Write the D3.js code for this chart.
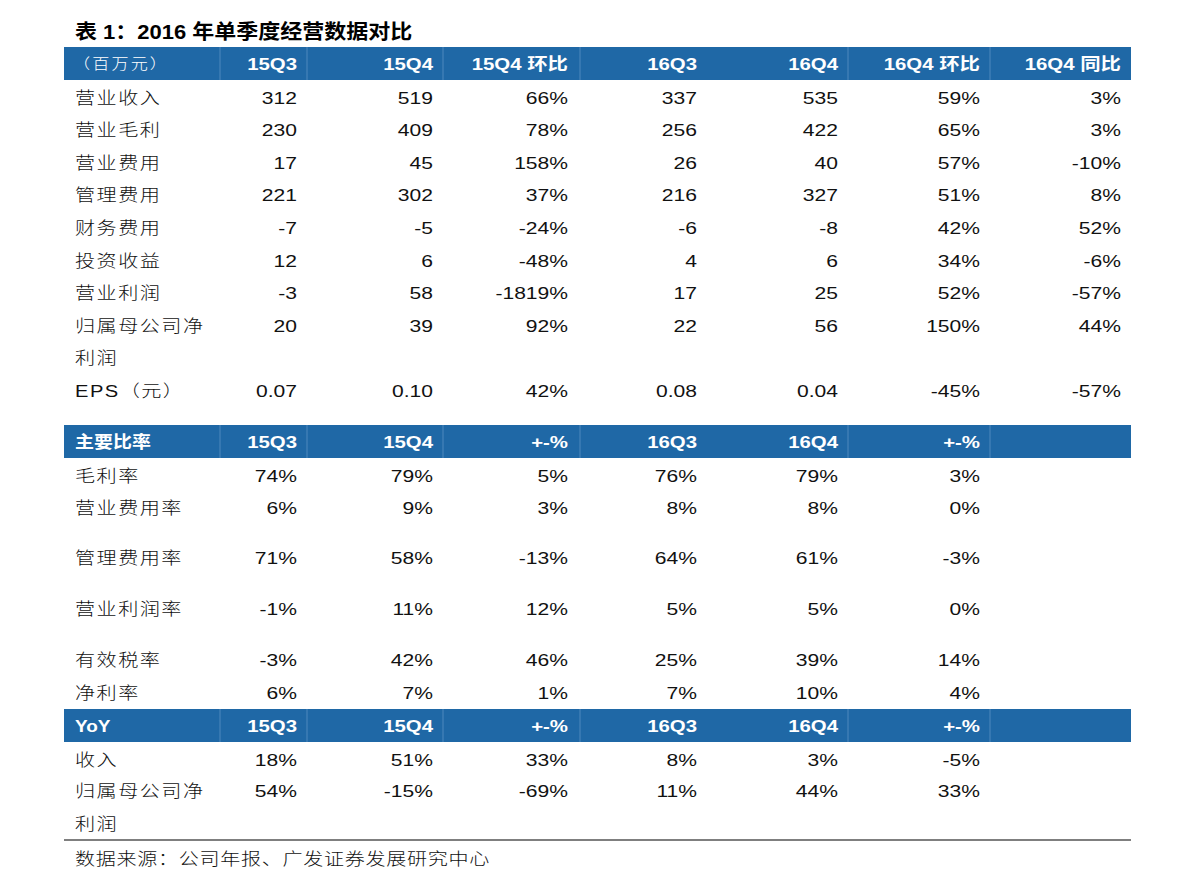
<!DOCTYPE html>
<html>
<head>
<meta charset="utf-8">
<script src="https://cdn.jsdelivr.net/npm/d3@7/dist/d3.min.js"></script>
<style>
  html, body { margin: 0; padding: 0; background: #fff; }
  svg { display: block; }
</style>
</head>
<body>
<svg id="chart" width="1191" height="888"></svg>
<script>
// ---------- DATA ----------
const title = "表 1：2016 年单季度经营数据对比";
const source = "数据来源：公司年报、广发证券发展研究中心";

const header1 = ["（百万元）", "15Q3", "15Q4", "15Q4 环比", "16Q3", "16Q4", "16Q4 环比", "16Q4 同比"];
const labels1 = ["营业收入", "营业毛利", "营业费用", "管理费用", "财务费用", "投资收益", "营业利润", "归属母公司净|利润", "EPS（元）"];
const values1 = [
  ["312", "519", "66%", "337", "535", "59%", "3%"],
  ["230", "409", "78%", "256", "422", "65%", "3%"],
  ["17", "45", "158%", "26", "40", "57%", "-10%"],
  ["221", "302", "37%", "216", "327", "51%", "8%"],
  ["-7", "-5", "-24%", "-6", "-8", "42%", "52%"],
  ["12", "6", "-48%", "4", "6", "34%", "-6%"],
  ["-3", "58", "-1819%", "17", "25", "52%", "-57%"],
  ["20", "39", "92%", "22", "56", "150%", "44%"],
  ["0.07", "0.10", "42%", "0.08", "0.04", "-45%", "-57%"]
];

const header2 = ["主要比率", "15Q3", "15Q4", "+-%", "16Q3", "16Q4", "+-%", ""];
const labels2 = ["毛利率", "营业费用率", "管理费用率", "营业利润率", "有效税率", "净利率"];
const values2 = [
  ["74%", "79%", "5%", "76%", "79%", "3%", ""],
  ["6%", "9%", "3%", "8%", "8%", "0%", ""],
  ["71%", "58%", "-13%", "64%", "61%", "-3%", ""],
  ["-1%", "11%", "12%", "5%", "5%", "0%", ""],
  ["-3%", "42%", "46%", "25%", "39%", "14%", ""],
  ["6%", "7%", "1%", "7%", "10%", "4%", ""]
];

const header3 = ["YoY", "15Q3", "15Q4", "+-%", "16Q3", "16Q4", "+-%", ""];
const labels3 = ["收入", "归属母公司净|利润"];
const values3 = [
  ["18%", "51%", "33%", "8%", "3%", "-5%", ""],
  ["54%", "-15%", "-69%", "11%", "44%", "33%", ""]
];

// ---------- LAYOUT ----------
const W = 1191, H = 888;
const tableLeft = 64, tableRight = 1131;
const labelX = 75;
const headerH = 33;
const pitch = 32.6;
const blue = "#1f68a6";
const sepColor = "#4f88bd";
const sx = 1.24; // horizontal stretch of the original typography

// column right edges (text anchor) and header separators
const colX = d3.scaleOrdinal().domain(d3.range(1, 8)).range([297, 433, 568, 697, 838, 980, 1121]);
const separators = [220, 307, 443, 580, 848, 990];

const sections = [
  { header: header1, labels: labels1, values: values1, top: 47, gaps: [1, 1, 1, 1, 1, 1, 1, 2, 1] },
  { header: header2, labels: labels2, values: values2, top: 425, gaps: [1, 1.53, 1.56, 1.56, 1.01, 1] },
  { header: header3, labels: labels3, values: values3, top: 709, gaps: [0.98, 1] }
];

const numFont = "'Liberation Sans', Arial, Helvetica, sans-serif";
const cjkFont = "'Liberation Sans', 'Noto Sans CJK SC', sans-serif";

const svg = d3.select("#chart");
svg.append("rect").attr("width", W).attr("height", H).attr("fill", "#fff");

function addText(g, str, x, y, opts) {
  const t = g.append("text")
    .attr("transform", `translate(${x},${y}) scale(${opts.sx || sx},1)`)
    .attr("text-anchor", opts.anchor || "start")
    .attr("font-family", opts.family || numFont)
    .attr("font-size", opts.size || 17)
    .attr("font-weight", opts.weight || 400)
    .attr("fill", opts.fill || "#111")
    .text(str);
  if (opts.ls) t.attr("letter-spacing", opts.ls);
  return t;
}

// Title
addText(svg, title, labelX, 39, { family: cjkFont, size: 20, weight: 700, fill: "#000", sx: 1.1 });

sections.forEach((sec, si) => {
  const g = svg.append("g");
  // header bar
  g.append("rect")
    .attr("x", tableLeft).attr("y", sec.top)
    .attr("width", tableRight - tableLeft).attr("height", headerH)
    .attr("fill", blue);
  g.selectAll("line.sep").data(separators).join("line")
    .attr("class", "sep")
    .attr("x1", d => d).attr("x2", d => d)
    .attr("y1", sec.top).attr("y2", sec.top + headerH)
    .attr("stroke", sepColor).attr("stroke-width", 1);

  const hBase = sec.top + 23;
  // header label
  if (si === 0) {
    addText(g, sec.header[0], labelX - 2, hBase - 1, { family: cjkFont, size: 14.5, weight: 300, fill: "#fff", sx: 1.18, ls: 1.8 });
  } else {
    addText(g, sec.header[0], labelX, hBase, { family: cjkFont, size: 16.5, weight: 700, fill: "#fff", sx: 1.15 });
  }
  sec.header.slice(1).forEach((h, i) => {
    if (h) addText(g, h, colX(i + 1), hBase, { family: cjkFont, size: 17, weight: 700, fill: "#fff", anchor: "end", sx: 1.2 });
  });

  // rows
  let center = sec.top + headerH + 17;
  sec.labels.forEach((lab, ri) => {
    const base = center + 6.5;
    const parts = lab.split("|");
    parts.forEach((p, pi) => {
      addText(g, p, labelX, base + pi * pitch, { family: cjkFont, size: 16.5, weight: 300, fill: "#111", sx: 1.22, ls: 1.2 });
    });
    sec.values[ri].forEach((v, ci) => {
      if (v) addText(g, v, colX(ci + 1), base, { anchor: "end" });
    });
    center += sec.gaps[ri] * pitch;
  });
});

// bottom rule
svg.append("line")
  .attr("x1", tableLeft).attr("x2", tableRight)
  .attr("y1", 840).attr("y2", 840)
  .attr("stroke", "#555").attr("stroke-width", 1.5);

// source
addText(svg, source, labelX, 865, { family: cjkFont, size: 17, weight: 300, fill: "#111", sx: 1.18, ls: 0.6 });
</script>
</body>
</html>
